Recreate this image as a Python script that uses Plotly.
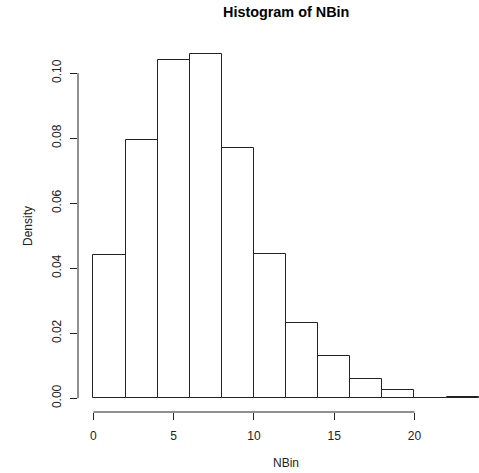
import plotly.graph_objects as go

# Histogram of NBin: bin edges (width 2) and density per bin
bin_left = [0, 2, 4, 6, 8, 10, 12, 14, 16, 18, 20, 22]
bin_width = 2
density = [0.044, 0.0795, 0.104, 0.106, 0.077, 0.0445, 0.023, 0.013, 0.006, 0.0025, 0.0, 0.0005]

x_ticks = [0, 5, 10, 15, 20]
y_ticks = [0.00, 0.02, 0.04, 0.06, 0.08, 0.10]

ink = "#222222"
font = "Liberation Sans, Arial, sans-serif"

fig = go.Figure()
fig.add_trace(go.Bar(
    x=bin_left,
    y=density,
    width=[bin_width] * len(bin_left),
    offset=0,
    marker=dict(color="white", line=dict(color=ink, width=1)),
    hoverinfo="skip",
))

W, H = 479, 473
fig.update_layout(
    width=W, height=H,
    margin=dict(l=78, r=0, t=40, b=61),
    paper_bgcolor="white", plot_bgcolor="white",
    showlegend=False,
    bargap=0,
    font=dict(family=font, size=12, color=ink),
    xaxis=dict(
        range=[-0.96, 24.02],
        tickvals=x_ticks,
        ticks="outside", ticklen=7, tickcolor=ink, tickwidth=1,
        showline=False, showgrid=False, zeroline=False,
        ticklabelstandoff=6,
        tickfont=dict(size=12, color=ink),
    ),
    yaxis=dict(
        range=[-0.00424, 0.1102],
        tickvals=y_ticks,
        tickformat=".2f",
        ticks="outside", ticklen=7, tickcolor=ink, tickwidth=1,
        showline=False, showgrid=False, zeroline=False,
        tickangle=-90,
        ticklabelstandoff=4,
        tickfont=dict(size=12, color=ink),
    ),
    shapes=[
        # R-style axis lines spanning only the tick range
        dict(type="line", xref="x", yref="paper", x0=x_ticks[0], x1=x_ticks[-1], y0=0, y1=0,
             line=dict(color=ink, width=1)),
        dict(type="line", xref="paper", yref="y", x0=0, x1=0, y0=y_ticks[0], y1=y_ticks[-1],
             line=dict(color=ink, width=1)),
    ],
    annotations=[
        dict(text="<b>Histogram of NBin</b>", xref="x", yref="paper", x=12, y=1,
             yshift=28, showarrow=False, font=dict(size=14.4, color="black"),
             xanchor="center", yanchor="middle"),
        dict(text="NBin", xref="x", yref="paper", x=12, y=0, yshift=-51,
             showarrow=False, xanchor="center", yanchor="middle",
             font=dict(size=12, color=ink)),
        dict(text="Density", xref="paper", yref="paper", x=0, y=0.5, xshift=-50,
             textangle=-90, showarrow=False, xanchor="center", yanchor="middle",
             font=dict(size=12, color=ink)),
    ],
)

fig.write_html("out.html")
